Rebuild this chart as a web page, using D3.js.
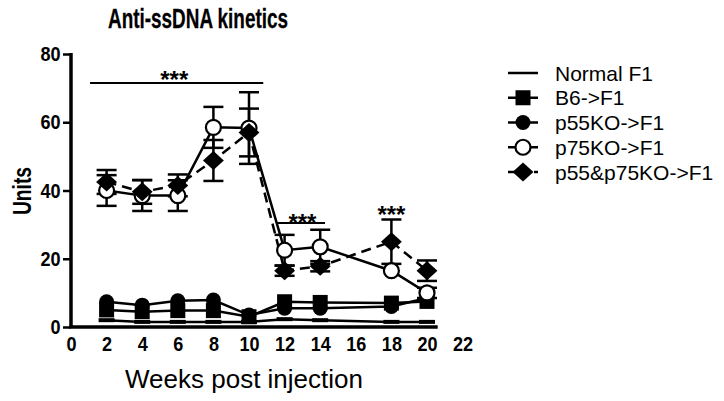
<!DOCTYPE html>
<html>
<head>
<meta charset="utf-8">
<script src="https://cdn.jsdelivr.net/npm/d3@7"></script>
<style>
  body { margin: 0; background: #fff; }
  text { font-family: "Liberation Sans", Arial, sans-serif; fill: #000; }
  .bold { font-weight: bold; }
</style>
</head>
<body>
<div id="body"></div>
<script>
// data
var weeks = [2, 4, 6, 8, 10, 12, 14, 18, 20];
var normalF1 = [2, 1.5, 1.5, 1.5, 1.5, 2.3, 2, 1.5, 1.5];
var b6F1 = [5, 4.5, 4.8, 4.8, 3, 7.4, 7.2, 7, 7.5];
var p55F1 = [7.4, 6.4, 7.7, 7.9, 3.5, 5.5, 5.5, 6, 8.5];
var p75F1 = [40, 38.5, 38.5, 58.5, 58.3, 22.5, 23.5, 16.5, 10];
var p75Err = [4.5, 4.5, 4.5, 6, 10.5, 4.5, 5, 0, 1.5];
var dkoF1 = [42.5, 39.6, 41.5, 48.8, 57, 16.5, 17.8, 25, 16.5];
var dkoErr = [3.5, 3.5, 3.2, 6, 7, 1.5, 1.5, 6.5, 3];

var xTicks = [0, 2, 4, 6, 8, 10, 12, 14, 16, 18, 20, 22];
var yTicks = [0, 20, 40, 60, 80];
var legendLabels = ["Normal F1", "B6->F1", "p55KO->F1", "p75KO->F1", "p55&p75KO->F1"];

// significance bars: week range and units level
var sigLines = [{x0: 1.07, x1: 10.8, y: 71.5}, {x0: 11.57, x1: 14.27, y: 30.5}];
var sigStars = [{x: 5.8, y: 74.1}, {x: 13, y: 32.2}, {x: 18, y: 34.5}];

var width = 724, height = 401;

var svg = d3.select("#body")
  .append("svg")
  .attr("width", width)
  .attr("height", height);

var x = d3.scaleLinear().domain([0, 22]).range([71, 462.6]);
var y = d3.scaleLinear().domain([0, 80]).range([327, 54]);

// title (condensed bold, like the original)
svg.append("text")
  .attr("class", "bold")
  .attr("x", 198)
  .attr("y", 28)
  .attr("text-anchor", "middle")
  .attr("font-size", 27)
  .attr("stroke", "#000").attr("stroke-width", 0.3)
  .attr("textLength", 180)
  .attr("lengthAdjust", "spacingAndGlyphs")
  .text("Anti-ssDNA kinetics");

// axes
var bottomAxis = d3.axisBottom(x).tickValues(xTicks).tickSize(0).tickSizeOuter(0);
var leftAxis = d3.axisLeft(y).tickValues(yTicks).tickSize(8).tickSizeOuter(0);

var gx = svg.append("g")
  .attr("transform", "translate(0," + y(0) + ")")
  .call(bottomAxis);
gx.select(".domain").remove();
gx.selectAll(".tick text")
  .attr("class", "bold")
  .attr("font-size", 21)
  .attr("dy", "0.93em")
  .attr("y", 4)
  .attr("transform", "scale(0.86,1)");
gx.append("line")
  .attr("x1", x(0) - 1.5).attr("x2", x(20.6))
  .attr("stroke", "#000").attr("stroke-width", 3.5);

var gy = svg.append("g")
  .attr("transform", "translate(" + x(0) + ",0)")
  .call(leftAxis);
gy.select(".domain").remove();
gy.selectAll(".tick line").attr("stroke", "#000").attr("stroke-width", 2.5);
gy.selectAll(".tick text")
  .attr("class", "bold")
  .attr("font-size", 21)
  .attr("x", -10.5 / 0.86)
  .attr("transform", "scale(0.86,1)");
gy.append("line")
  .attr("y1", y(0)).attr("y2", y(80) - 1)
  .attr("stroke", "#000").attr("stroke-width", 3.5);

// axis titles
svg.append("text")
  .attr("class", "bold")
  .attr("transform", "translate(31,191) rotate(-90)")
  .attr("text-anchor", "middle")
  .attr("font-size", 25)
  .attr("textLength", 48)
  .attr("lengthAdjust", "spacingAndGlyphs")
  .text("Units");

svg.append("text")
  .attr("x", 244)
  .attr("y", 388)
  .attr("text-anchor", "middle")
  .attr("font-size", 26)
  .text("Weeks post injection");

var line = d3.line()
  .x(function(d) { return x(d[0]); })
  .y(function(d) { return y(d[1]); });

function pairs(vals) {
  return weeks.map(function(w, i) { return [w, vals[i]]; });
}

// error bars
function errorBars(vals, errs) {
  var g = svg.append("g").attr("stroke", "#000").attr("stroke-width", 2.5);
  weeks.forEach(function(w, i) {
    if (!errs[i]) return;
    var top = vals[i] + errs[i], bot = vals[i] - errs[i];
    g.append("line").attr("x1", x(w)).attr("x2", x(w)).attr("y1", y(top)).attr("y2", y(bot));
    [top, bot].forEach(function(v) {
      g.append("line").attr("x1", x(w) - 10).attr("x2", x(w) + 10).attr("y1", y(v)).attr("y2", y(v));
    });
  });
}

errorBars(p75F1, p75Err);
errorBars(dkoF1, dkoErr);

// lines
[normalF1, b6F1, p55F1, p75F1].forEach(function(vals) {
  svg.append("path").datum(pairs(vals)).attr("d", line)
    .attr("fill", "none").attr("stroke", "#000").attr("stroke-width", 2.5);
});
svg.append("path").datum(pairs(dkoF1)).attr("d", line)
  .attr("fill", "none").attr("stroke", "#000").attr("stroke-width", 2.5)
  .attr("stroke-dasharray", "10,6");

// markers
function drawMarker(g, type, cx, cy) {
  if (type === "dash") {
    g.append("rect").attr("x", cx - 8).attr("y", cy - 2).attr("width", 16).attr("height", 4).attr("fill", "#000");
  } else if (type === "square") {
    g.append("rect").attr("x", cx - 7.5).attr("y", cy - 7.5).attr("width", 15).attr("height", 15).attr("fill", "#000");
  } else if (type === "circle") {
    g.append("circle").attr("cx", cx).attr("cy", cy).attr("r", 7.5).attr("fill", "#000");
  } else if (type === "open") {
    g.append("circle").attr("cx", cx).attr("cy", cy).attr("r", 7.5)
      .attr("fill", "#fff").attr("stroke", "#000").attr("stroke-width", 2.2);
  } else if (type === "diamond") {
    g.append("path")
      .attr("d", d3.symbol().type(d3.symbolDiamond2).size(230)())
      .attr("transform", "translate(" + cx + "," + cy + ") scale(1.1,1)")
      .attr("fill", "#000");
  }
}

var seriesList = [
  {vals: normalF1, type: "dash"},
  {vals: b6F1, type: "square"},
  {vals: p55F1, type: "circle"},
  {vals: p75F1, type: "open"},
  {vals: dkoF1, type: "diamond"}
];

seriesList.forEach(function(s) {
  var g = svg.append("g");
  weeks.forEach(function(w, i) { drawMarker(g, s.type, x(w), y(s.vals[i])); });
});

// significance marks
svg.selectAll(".sig")
  .data(sigLines)
  .enter().append("line")
  .attr("x1", function(d) { return x(d.x0); })
  .attr("x2", function(d) { return x(d.x1); })
  .attr("y1", function(d) { return y(d.y); })
  .attr("y2", function(d) { return y(d.y); })
  .attr("stroke", "#000").attr("stroke-width", 2);

svg.selectAll(".stars")
  .data(sigStars)
  .enter().append("text")
  .attr("class", "bold")
  .attr("x", function(d) { return x(d.x); })
  .attr("y", function(d) { return y(d.y); })
  .attr("dy", "0.58em")
  .attr("text-anchor", "middle")
  .attr("font-size", 24)
  .text("***");

// legend
var legendTypes = ["none", "square", "circle", "open", "diamond"];
var legend = svg.append("g");
legendLabels.forEach(function(lab, i) {
  var ly = 73 + i * 24.75;
  legend.append("line")
    .attr("x1", 508).attr("x2", 538).attr("y1", ly).attr("y2", ly)
    .attr("stroke", "#000").attr("stroke-width", 2.5)
    .attr("stroke-dasharray", i === 4 ? "9,4" : null);
  if (legendTypes[i] !== "none") drawMarker(legend, legendTypes[i], 523, ly);
  legend.append("text")
    .attr("x", 555)
    .attr("y", ly)
    .attr("dy", "0.36em")
    .attr("font-size", 21)
    .text(lab);
});
</script>
</body>
</html>
